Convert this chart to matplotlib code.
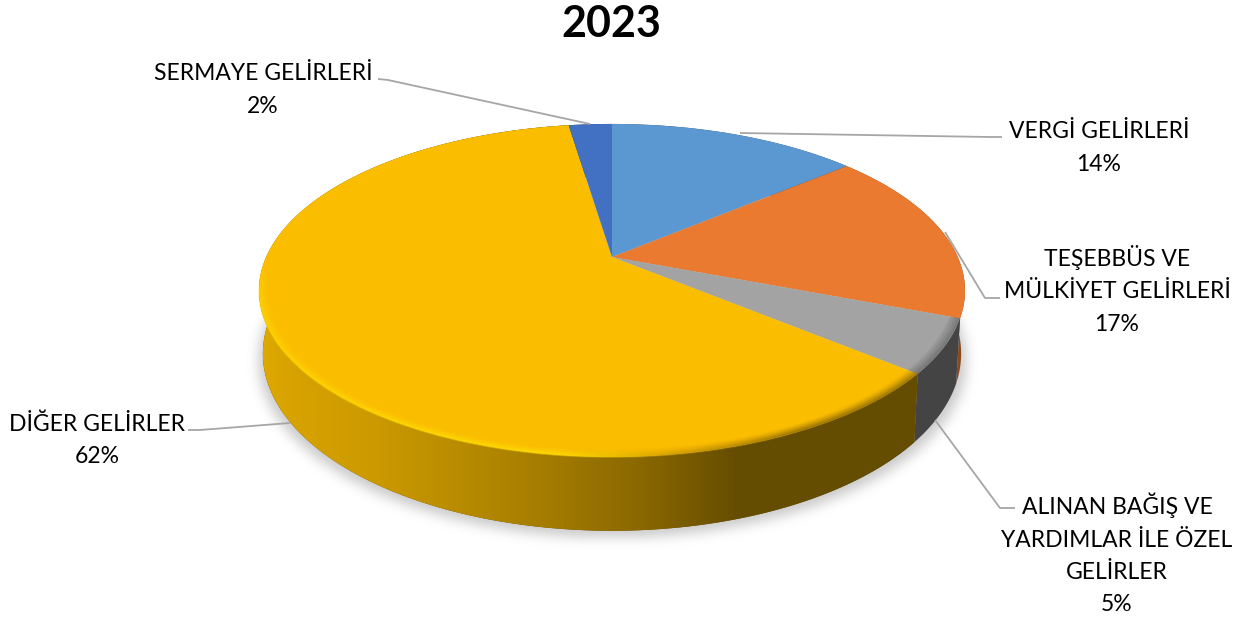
import numpy as np
import matplotlib
matplotlib.use('Agg')
import matplotlib.pyplot as plt
from matplotlib.collections import LineCollection
from matplotlib.colors import to_rgb
from matplotlib.patches import Polygon
from matplotlib.transforms import Transform

plt.rcParams['font.family'] = ['Lato', 'DejaVu Sans']

# Data
title = '2023'
categories = ['VERGİ GELİRLERİ', 'TEŞEBBÜS VE\nMÜLKİYET GELİRLERİ',
              'ALINAN BAĞIŞ VE\nYARDIMLAR İLE ÖZEL\nGELİRLER',
              'DİĞER GELİRLER', 'SERMAYE GELİRLERİ']
values = [13.9, 16.9, 5.2, 61.6, 2.4]
percents = ['14%', '17%', '5%', '62%', '2%']
colors = ['#5b98d2', '#e97a30', '#a3a3a3', '#fbbd00', '#4270c2']
wall_colors = ['#2d4e6b', '#8a4a1f', '#444444', '#644c00', '#223962']

# Label centres and leader lines, in pixels
label_xy = [(1099, 148), (1117, 290), (1117, 554), (97, 440), (263, 90)]
leaders = [[(1002, 137), (990, 137), (740, 133)],
           [(1000, 298), (985, 298), (945, 232)],
           [(1015, 508), (1000, 508), (935, 420)],
           [(188, 430), (200, 430), (290, 423)],
           [(378, 79), (388, 80), (590, 124)]]

# Perspective of the disc
CX, CY, A, B, K = 612, 257, 345.8, 159.8, 0.201
CY2, A2, B2 = 318, 342, 170


def project(x, y, cy=CY, a=A, b=B):
    w = 1 + K * y
    return CX + a * x / w, cy - b * y / w


class DiscTransform(Transform):
    input_dims = 2
    output_dims = 2

    def transform_non_affine(self, values):
        values = np.asarray(values)
        sx, sy = project(values[:, 0], values[:, 1])
        return np.column_stack([sx, sy])


def rim(theta1, theta2, r=1.0, n=200, **kw):
    t = np.radians(np.linspace(theta1, theta2, n))
    sx, sy = project(r * np.cos(t), r * np.sin(t), **kw)
    return np.column_stack([sx, sy])


fig = plt.figure(figsize=(12.46, 6.18), dpi=100)
ax = fig.add_axes([0, 0, 1, 1])
ax.axis('off')

wedges, _ = ax.pie(values, colors=colors, startangle=90, counterclock=False)
disc = DiscTransform() + ax.transData
for w in wedges:
    w.set_transform(disc)
    w.set_zorder(3)
    w.set_linewidth(0)

# Soft shadow under the disc
yy, xx = np.mgrid[0:618, 0:1246]
mask = (((xx - 612) / 354.0) ** 2 + ((yy - 360) / 177.0) ** 2 < 1).astype(float)
kernel = np.exp(-np.arange(-18, 19) ** 2 / (2 * 6.0 ** 2))
kernel /= kernel.sum()
for axis in (0, 1):
    mask = np.apply_along_axis(np.convolve, axis, mask, kernel, mode='same')
shadow = np.zeros((618, 1246, 4))
shadow[..., :3] = 0.35
shadow[..., 3] = mask * 0.32
ax.imshow(shadow, extent=(0, 1246, 618, 0), aspect='auto', zorder=1)

# Outer walls
wall_kw = dict(cy=CY2, a=A2, b=B2)
for w, wc in zip(wedges, wall_colors):
    top = rim(w.theta1, w.theta2)
    bottom = rim(w.theta2, w.theta1, **wall_kw)
    poly = Polygon(np.vstack([top, bottom]), closed=True, fc=wc, ec='none', zorder=2)
    ax.add_patch(poly)
    if wc == wall_colors[3]:
        # the big slice has a shaded wall, light on the left and dark on the right
        stops_x = [260, 290, 373, 540, 640, 740, 965]
        stops_c = ['#dfa900', '#d8a300', '#cc9a00', '#a67d00', '#8a6800', '#644c00', '#644c00']
        rgb = np.array([to_rgb(c) for c in stops_c])
        gx = np.arange(1246)
        grad = np.column_stack([np.interp(gx, stops_x, rgb[:, i]) for i in range(3)])[None, :, :]
        im = ax.imshow(grad, extent=(0, 1246, 618, 0), aspect='auto', zorder=2.1)
        im.set_clip_path(poly)


# Bevel along the front rim
def bevel(theta1, theta2, xs, cols, fade_y=None, strength=1.0):
    rgb = np.array([to_rgb(c) for c in cols])
    for r in np.linspace(0.972, 0.999, 10):
        alpha = strength * ((r - 0.965) / 0.035) ** 2 * 0.45
        pts = rim(theta1, theta2, r=r, n=400)
        segs = np.stack([pts[:-1], pts[1:]], axis=1)
        mx = segs[:, :, 0].mean(axis=1)
        my = segs[:, :, 1].mean(axis=1)
        col = np.column_stack([np.interp(mx, xs, rgb[:, i]) for i in range(3)]
                              + [np.full(len(mx), alpha)])
        if fade_y is not None:
            col[:, 3] *= np.clip((my - fade_y[0]) / (fade_y[1] - fade_y[0]), 0, 1)
        ax.add_collection(LineCollection(segs, colors=col, linewidths=1.6, zorder=4,
                                         capstyle='butt'))


big = wedges[3]
bevel(big.theta1, big.theta2, [260, 560, 680, 800, 920],
      ['#ffdc00', '#ffe000', '#c89600', '#7a5c00', '#7a5c00'], fade_y=(255, 300))
grey = wedges[2]
bevel(grey.theta1, grey.theta2, [900, 960], ['#555555', '#555555'], strength=0.7)

# Leader lines
for line in leaders:
    pts = np.array(line)
    ax.plot(pts[:, 0], pts[:, 1], color='#a6a6a6', lw=1.3, zorder=5, solid_capstyle='butt')

# Text
for name, pct, (lx, ly) in zip(categories, percents, label_xy):
    ax.text(lx, ly, f'{name}\n{pct}', ha='center', va='center', ma='center',
            fontsize=16.5, color='#000000', linespacing=1.67, zorder=6)
ax.text(611, 24, title, ha='center', va='center', fontsize=31, fontweight='bold',
        color='#000000', zorder=6)

ax.set_aspect('auto')
ax.set_xlim(0, 1246)
ax.set_ylim(618, 0)

fig.savefig('out.png', dpi=100)
